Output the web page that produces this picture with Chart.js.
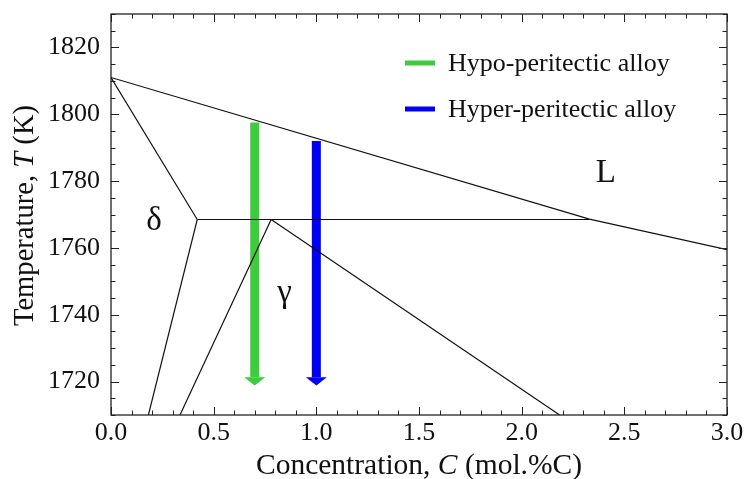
<!DOCTYPE html>
<html>
<head>
<meta charset="utf-8">
<script src="https://cdn.jsdelivr.net/npm/chart.js@4.4.1/dist/chart.umd.min.js"></script>
<style>
  html, body { margin: 0; padding: 0; background: #fff; }
  #wrap { width: 746px; height: 479px; }
</style>
</head>
<body>
<div id="wrap"><canvas id="phaseChart"></canvas></div>
<script>
// ============================
// DATA
// ============================

const xTicks = [0, 0.5, 1.0, 1.5, 2.0, 2.5, 3.0];
const yTicks = [1720, 1740, 1760, 1780, 1800, 1820];

// phase boundaries (C in mol.%C, T in K)
const liquidusC = [0, 2.33, 3.0];
const liquidusT = [1811, 1768.6, 1759.5];

const deltaSolidusC = [0, 0.42];
const deltaSolidusT = [1811, 1768.5];

const peritecticC = [0.42, 2.33];
const peritecticT = [1768.5, 1768.5];

const deltaSolvusC = [0.42, 0.182];
const deltaSolvusT = [1768.5, 1710];

const gammaSolvusC = [0.336, 0.78];
const gammaSolvusT = [1710, 1768.5];

const gammaSolidusC = [0.78, 2.185];
const gammaSolidusT = [1768.5, 1710];

// cooling paths
const arrowLabels = ['Hypo-peritectic alloy', 'Hyper-peritectic alloy'];
const arrowC = [0.7, 1.0];
const arrowTopT = [1797.5, 1792];
const arrowBaseT = [1721.3, 1721.3];
const arrowTipT = [1718.8, 1718.8];
const arrowColors = ['#3ccc3c', '#0000f5'];

// phase names
const phaseNames = ['δ', 'γ', 'L'];
const phaseC = [0.209, 0.845, 2.41];
const phaseT = [1765.4, 1743.8, 1779.8];


// ============================
// HELPERS
// ============================

const SERIF = '"Liberation Serif", "Times New Roman", serif';

function pts(cs, ts) {
    return cs.map((c, i) => ({ x: c, y: ts[i] }));
}

function boundary(cs, ts) {
    return {
        data: pts(cs, ts),
        showLine: true,
        borderColor: '#111',
        borderWidth: 1.2,
        pointRadius: 0,
        fill: false
    };
}

function drawMixed(ctx, parts, size) {
    // parts: [text, italic]
    let total = 0;
    const widths = parts.map(p => {
        ctx.font = (p[1] ? 'italic ' : '') + size + 'px ' + SERIF;
        const w = ctx.measureText(p[0]).width;
        total += w;
        return w;
    });
    let x = -total / 2;
    parts.forEach((p, i) => {
        ctx.font = (p[1] ? 'italic ' : '') + size + 'px ' + SERIF;
        ctx.fillText(p[0], x, 0);
        x += widths[i];
    });
}

function noPadding(s) {
    s.paddingTop = 0;
    s.paddingBottom = 0;
    s.paddingLeft = 0;
    s.paddingRight = 0;
}


// ============================
// DECORATION PLUGIN
// ============================

const decor = {
    id: 'decor',
    afterDatasetsDraw(chart) {
        const ctx = chart.ctx;
        const ca = chart.chartArea;
        const xs = chart.scales.x;
        const ys = chart.scales.y;

        ctx.save();

        // arrow heads
        arrowC.forEach((c, i) => {
            const x = xs.getPixelForValue(c);
            const yb = ys.getPixelForValue(arrowBaseT[i]);
            const yt = ys.getPixelForValue(arrowTipT[i]);
            ctx.fillStyle = arrowColors[i];
            ctx.beginPath();
            ctx.moveTo(x - 10.5, yb);
            ctx.lineTo(x + 10.5, yb);
            ctx.lineTo(x, yt);
            ctx.closePath();
            ctx.fill();
        });

        // frame
        ctx.strokeStyle = '#222';
        ctx.lineWidth = 1.3;
        ctx.strokeRect(ca.left, ca.top, ca.right - ca.left, ca.bottom - ca.top);

        // inward ticks on all four sides
        ctx.lineWidth = 1;
        ctx.beginPath();
        for (let k = 0; k <= 30; k++) {
            const v = k / 10;
            const len = (k % 5 === 0) ? 8 : 4.5;
            const x = Math.round(xs.getPixelForValue(v)) + 0.5;
            ctx.moveTo(x, ca.bottom); ctx.lineTo(x, ca.bottom - len);
            ctx.moveTo(x, ca.top); ctx.lineTo(x, ca.top + len);
        }
        for (let t = 1710; t <= 1830; t += 5) {
            const len = (t % 20 === 0) ? 8 : 4.5;
            const y = Math.round(ys.getPixelForValue(t)) + 0.5;
            ctx.moveTo(ca.left, y); ctx.lineTo(ca.left + len, y);
            ctx.moveTo(ca.right, y); ctx.lineTo(ca.right - len, y);
        }
        ctx.stroke();

        // phase labels
        ctx.fillStyle = '#111';
        ctx.font = '33px ' + SERIF;
        ctx.textAlign = 'center';
        ctx.textBaseline = 'alphabetic';
        phaseNames.forEach((n, i) => {
            ctx.fillText(n, xs.getPixelForValue(phaseC[i]), ys.getPixelForValue(phaseT[i]));
        });

        // legend
        const lx = ca.left + 294;
        ctx.textAlign = 'left';
        ctx.textBaseline = 'middle';
        ctx.font = '26px ' + SERIF;
        arrowLabels.forEach((label, i) => {
            const y = ca.top + 49 + i * 46;
            ctx.strokeStyle = arrowColors[i];
            ctx.lineWidth = 5;
            ctx.beginPath();
            ctx.moveTo(lx, y);
            ctx.lineTo(lx + 30, y);
            ctx.stroke();
            ctx.fillStyle = '#111';
            ctx.fillText(label, lx + 43, y + 1);
        });

        // axis titles
        ctx.fillStyle = '#111';
        ctx.textAlign = 'left';
        ctx.textBaseline = 'alphabetic';

        ctx.save();
        ctx.translate((ca.left + ca.right) / 2, 474);
        drawMixed(ctx, [['Concentration, ', false], ['C', true], [' (mol.%C)', false]], 29.5);
        ctx.restore();

        ctx.save();
        ctx.translate(33, (ca.top + ca.bottom) / 2 + 1);
        ctx.rotate(-Math.PI / 2);
        drawMixed(ctx, [['Temperature, ', false], ['T', true], [' (K)', false]], 28.6);
        ctx.restore();

        ctx.restore();
    }
};


// ============================
// CHART
// ============================

const shafts = arrowC.map((c, i) => ({
    label: arrowLabels[i],
    data: pts([c, c], [arrowTopT[i], arrowBaseT[i]]),
    showLine: true,
    borderColor: arrowColors[i],
    borderWidth: 9,
    borderCapStyle: 'butt',
    pointRadius: 0,
    fill: false
}));

new Chart(document.getElementById('phaseChart'), {

type: 'scatter',

data: {
    datasets: [
        boundary(liquidusC, liquidusT),
        boundary(deltaSolidusC, deltaSolidusT),
        boundary(peritecticC, peritecticT),
        boundary(deltaSolvusC, deltaSolvusT),
        boundary(gammaSolvusC, gammaSolvusT),
        boundary(gammaSolidusC, gammaSolidusT),
        ...shafts
    ]
},

options: {
    responsive: true,
    maintainAspectRatio: false,
    animation: false,
    devicePixelRatio: 1,
    layout: {
        padding: { top: 14, right: 19, left: 0, bottom: 0 }
    },
    plugins: {
        legend: { display: false },
        tooltip: { enabled: false }
    },
    scales: {
        x: {
            type: 'linear',
            min: 0,
            max: 3,
            afterBuildTicks: s => { s.ticks = xTicks.map(v => ({ value: v })); },
            afterFit: s => { s.height = 64; noPadding(s); },
            grid: { display: false, drawTicks: false },
            border: { display: false },
            ticks: {
                callback: v => v.toFixed(1),
                color: '#111',
                padding: 3,
                maxRotation: 0,
                autoSkip: false,
                font: { family: SERIF, size: 26 }
            }
        },
        y: {
            type: 'linear',
            min: 1710,
            max: 1830,
            afterBuildTicks: s => { s.ticks = yTicks.map(v => ({ value: v })); },
            afterFit: s => { s.width = 111; noPadding(s); },
            grid: { display: false, drawTicks: false },
            border: { display: false },
            ticks: {
                callback: v => String(v),
                color: '#111',
                padding: 11,
                font: { family: SERIF, size: 26 }
            }
        }
    }
},

plugins: [decor]

});
</script>
</body>
</html>
